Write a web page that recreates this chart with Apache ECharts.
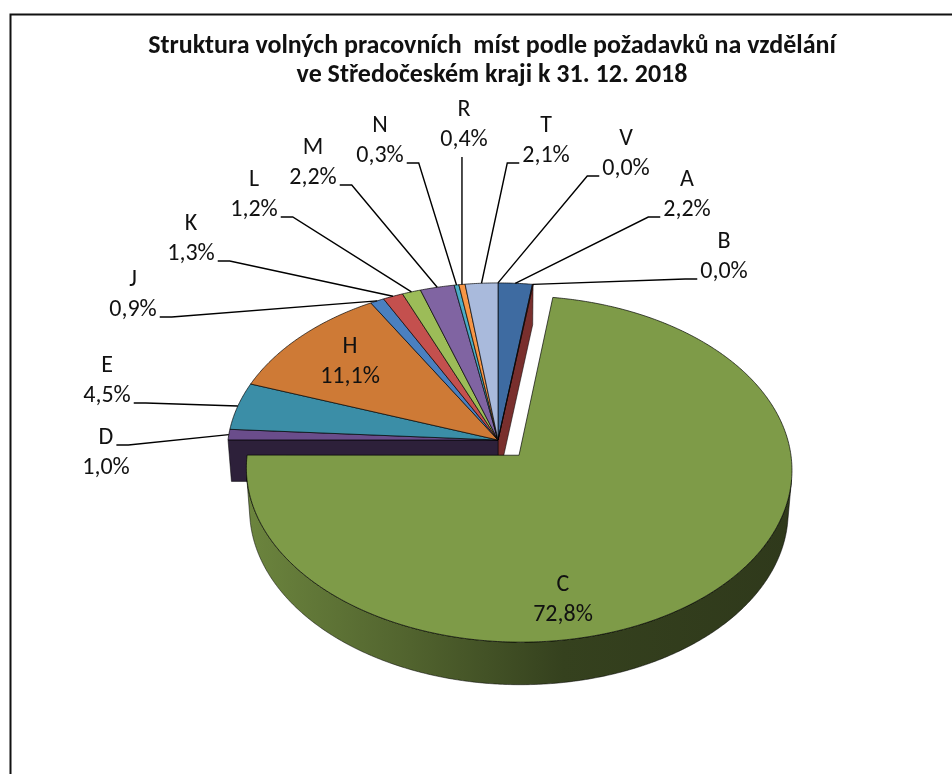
<!DOCTYPE html>
<html>
<head>
<meta charset="utf-8">
<script src="https://cdn.jsdelivr.net/npm/echarts@6/dist/echarts.min.js"></script>
<style>
    html, body {margin: 0; padding: 0; background: #fff;}
    #chart {width: 952px; height: 774px;}
</style>
</head>
<body>
<div id="chart"></div>
<script>
// education levels (category codes) and their share of vacancies, %
const categories = ['A', 'B', 'C', 'D', 'E', 'H', 'J', 'K', 'L', 'M', 'N', 'R', 'T', 'V']
const shares = [2.2, 0.04, 72.8, 1.0, 4.5, 11.1, 0.9, 1.3, 1.2, 2.2, 0.3, 0.4, 2.1, 0.0]
const explodedCats = ['C']
const insideCats = ['C', 'H']

const sliceColors = ['#3e6ba1', '#8a3533', '#7e9b48', '#6a4d8b', '#3b8ea7', '#ce7a36',
                     '#4a80c0', '#c4504e', '#9cbc58', '#8064a2', '#4bacc6', '#f79646',
                     '#a9badc', '#d39693']

// label block placement: centre x, y of the first line
const labelSpots = [[687, 180], [724, 242], [563, 585], [106, 438], [107, 366], [350, 347],
                    [133, 280], [191, 224], [254, 180], [313, 148], [380, 126], [464, 110],
                    [546, 126], [626, 139]]

const FONT_FAMILY = 'Carlito, Lato, sans-serif'
const LABEL_SIZE = 24
const LINE_H = 30

// 3d view of the pie
const view = {cx: 498, cy: 440, s: 270, elev: 38.9, dist: 9.8, h: 0.2, explode: 0.118}
const sinE = Math.sin(view.elev * Math.PI / 180)
const cosE = Math.cos(view.elev * Math.PI / 180)

function project(X, Y, Z) {
    const yc = Y * cosE - Z * sinE
    const zc = Y * sinE + Z * cosE
    const f = view.dist / (view.dist - zc)
    return [view.cx + view.s * X * f, view.cy - view.s * yc * f]
}
// theta: clockwise from 12 o'clock
function rimPt(theta, Y, off) {
    return project(Math.sin(theta) + off[0], Y, -Math.cos(theta) + off[1])
}
function apexPt(Y, off) {
    return project(off[0], Y, off[1])
}
function area(pts) {
    let a = 0
    for (let i = 0; i < pts.length; i++) {
        const p = pts[i], q = pts[(i + 1) % pts.length]
        a += p[0] * q[1] - q[0] * p[1]
    }
    return a / 2
}
function shade(hex, k) {
    const n = parseInt(hex.slice(1), 16)
    const r = Math.round(((n >> 16) & 255) * k)
    const g = Math.round(((n >> 8) & 255) * k)
    const b = Math.round((n & 255) * k)
    return `rgb(${r},${g},${b})`
}

const measureCtx = document.createElement('canvas').getContext('2d')
measureCtx.font = `${LABEL_SIZE}px ${FONT_FAMILY}`
const textWidth = (t) => measureCtx.measureText(t).width

const total = shares.reduce((a, b) => a + b, 0)
const fmtPct = (v) => v.toFixed(1).replace('.', ',') + '%'
const OUTLINE = 'rgba(0,0,0,0.85)'

function renderSlice(params, api) {
    const i = params.dataIndex
    const v = api.value(1)
    let before = 0
    for (let k = 0; k < i; k++) before += shares[k]
    const t0 = before / total * Math.PI * 2
    const t1 = (before + v) / total * Math.PI * 2
    const mid = (t0 + t1) / 2
    const isExploded = explodedCats.includes(categories[i])
    const off = isExploded ? [view.explode * Math.sin(mid), -view.explode * Math.cos(mid)] : [0, 0]
    const color = sliceColors[i]
    const children = []
    const h = -view.h

    if (v > 0) {
        const steps = Math.max(2, Math.ceil((t1 - t0) / (Math.PI / 360)))
        const ts = []
        for (let k = 0; k <= steps; k++) ts.push(t0 + (t1 - t0) * k / steps)

        // radial faces, only where the neighbour is pulled away
        const prevExp = explodedCats.includes(categories[(i - 1 + categories.length) % categories.length])
        const nextExp = explodedCats.includes(categories[(i + 1) % categories.length])
        if (isExploded || prevExp) {
            const q = [apexPt(0, off), rimPt(t0, 0, off), rimPt(t0, h, off), apexPt(h, off)]
            if (area(q) < 0) children.push({type: 'polygon', z2: 1, shape: {points: q},
                style: {fill: shade(color, 0.42), stroke: OUTLINE, lineWidth: 0.6}})
        }
        if (isExploded || nextExp) {
            const q = [apexPt(0, off), rimPt(t1, 0, off), rimPt(t1, h, off), apexPt(h, off)]
            if (area(q) > 0) children.push({type: 'polygon', z2: 1, shape: {points: q},
                style: {fill: shade(color, 0.88), stroke: OUTLINE, lineWidth: 0.6}})
        }

        // outer wall, visible part only
        const vis = []
        for (let k = 0; k < steps; k++) {
            const q = [rimPt(ts[k + 1], 0, off), rimPt(ts[k], 0, off), rimPt(ts[k], h, off), rimPt(ts[k + 1], h, off)]
            if (area(q) > 0) vis.push(k)
        }
        if (vis.length) {
            const a = vis[0], b = vis[vis.length - 1] + 1
            const pts = []
            for (let k = a; k <= b; k++) pts.push(rimPt(ts[k], 0, off))
            for (let k = b; k >= a; k--) pts.push(rimPt(ts[k], h, off))
            const xs = pts.map(p => p[0])
            const x0 = Math.min(...xs), x1 = Math.max(...xs)
            children.push({type: 'polygon', z2: 2, shape: {points: pts},
                style: {
                    fill: {type: 'linear', x: x0, y: 0, x2: x1, y2: 0, global: true,
                        colorStops: [
                            {offset: 0, color: shade(color, 0.86)},
                            {offset: 0.3, color: shade(color, 0.64)},
                            {offset: 0.58, color: shade(color, 0.42)},
                            {offset: 1, color: shade(color, 0.37)}
                        ]},
                    stroke: OUTLINE, lineWidth: 0.6
                }})
        }

        // top face
        const top = [apexPt(0, off)]
        ts.forEach(t => top.push(rimPt(t, 0, off)))
        children.push({type: 'polygon', z2: 3, shape: {points: top},
            style: {fill: color, stroke: OUTLINE, lineWidth: 0.8}})
    }

    // label + leader line
    const [lx, ly] = labelSpots[i]
    const lines = [categories[i], fmtPct(v)]
    const lineYs = [ly, ly + LINE_H]
    lines.forEach((t, k) => children.push({type: 'text', z2: 5,
        style: {text: t, x: lx, y: lineYs[k], align: 'center', verticalAlign: 'middle',
            font: `${LABEL_SIZE}px ${FONT_FAMILY}`, fill: '#111'}}))

    if (!insideCats.includes(categories[i])) {
        const rim = rimPt(mid, 0, off)
        const li = Math.abs(lineYs[0] - rim[1]) < Math.abs(lineYs[1] - rim[1]) ? 0 : 1
        const w = textWidth(lines[li])
        let pts
        if (Math.abs(lx - rim[0]) < 12) {
            pts = [rim, [rim[0], lineYs[1] + 17]]
        } else if (lx < rim[0]) {
            const ax = lx + w / 2 + 3, ay = lineYs[li] + 7
            pts = [rim, [ax + 12, ay], [ax, ay]]
        } else {
            const ax = lx - w / 2 - 3, ay = lineYs[li] + 7
            pts = [rim, [ax - 12, ay], [ax, ay]]
        }
        children.push({type: 'polyline', z2: 4, shape: {points: pts},
            style: {stroke: '#000', lineWidth: 1.4, fill: null}})
    }

    return {type: 'group', children: children}
}

const chart = echarts.init(document.getElementById('chart'))
chart.setOption({
    animation: false,
    backgroundColor: '#fff',
    title: {
        text: 'Struktura volných pracovních  míst podle požadavků na vzdělání\nve Středočeském kraji k 31. 12. 2018',
        left: 487,
        top: 27,
        textAlign: 'center',
        textStyle: {fontFamily: FONT_FAMILY, fontSize: 26, fontWeight: 'bold', color: '#111', lineHeight: 29}
    },
    graphic: [{
        type: 'rect',
        left: 8,
        top: 12,
        shape: {x: 0, y: 0, width: 980, height: 800},
        style: {fill: null, stroke: '#111', lineWidth: 2},
        silent: true
    }],
    series: [{
        type: 'custom',
        coordinateSystem: 'none',
        renderItem: renderSlice,
        data: categories.map((c, i) => [i, shares[i]])
    }]
})
</script>
</body>
</html>
